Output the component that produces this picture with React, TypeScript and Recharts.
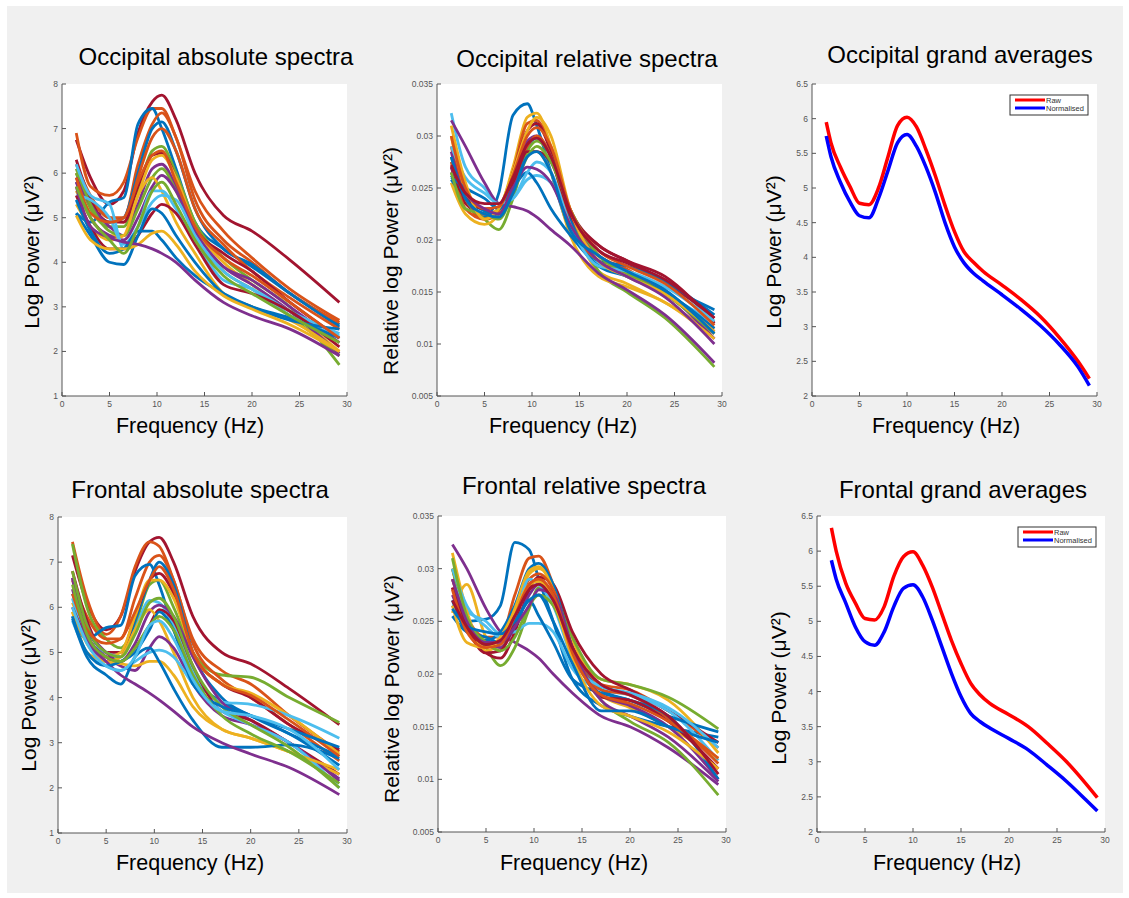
import React from "react";
import { LineChart, Line, XAxis, YAxis } from "recharts";

// frequency grid (Hz) the individual spectra are sampled at
const FREQ = [1.5, 3, 5, 6.5, 8, 9.5, 10.5, 12, 14, 17, 20, 24, 29.2];
// finer grid for the grand averages
const AVG_FREQ = [1.5, 2, 3, 4, 5, 6, 7, 8, 9, 10, 11, 12, 13, 14, 15, 16, 17, 18, 20, 22, 24, 26, 28, 29.2];

const X_TICKS = [0, 5, 10, 15, 20, 25, 30];
const ABS_TICKS = [1, 2, 3, 4, 5, 6, 7, 8];
const REL_TICKS = [0.005, 0.01, 0.015, 0.02, 0.025, 0.03, 0.035];
const AVG_TICKS = [2, 2.5, 3, 3.5, 4, 4.5, 5, 5.5, 6, 6.5];

// matlab default line colours
const BL = "#0072BD";
const OR = "#D95319";
const YE = "#EDB120";
const PU = "#7E2F8E";
const GR = "#77AC30";
const CY = "#4DBEEE";
const DR = "#A2142F";

const occAbsColors = [DR, OR, BL, OR, BL, OR, GR, DR, YE, PU, GR, PU, YE, CY, CY, DR, BL, BL, YE, PU, OR, GR];
const occAbs = [
  [6.75, 5.9, 5.3, 5.6, 6.9, 7.6, 7.75, 7.2, 6.0, 5.05, 4.7, 4.05, 3.1],
  [6.9, 5.7, 5.5, 5.8, 6.8, 7.45, 7.45, 6.8, 5.6, 4.7, 4.1, 3.4, 2.7],
  [5.1, 4.9, 5.35, 5.45, 7.1, 7.45, 7.0, 6.1, 4.9, 4.3, 3.9, 3.3, 2.6],
  [6.2, 5.5, 5.0, 5.0, 6.2, 7.1, 7.35, 6.8, 5.4, 4.5, 4.0, 3.3, 2.65],
  [5.8, 5.3, 4.9, 5.0, 6.0, 7.0, 7.15, 6.5, 5.2, 4.3, 3.95, 3.3, 2.55],
  [6.0, 5.4, 5.0, 4.9, 5.9, 6.8, 7.0, 6.5, 5.2, 4.4, 3.8, 3.2, 2.5],
  [6.0, 5.2, 4.8, 4.8, 5.6, 6.5, 6.6, 6.0, 4.9, 4.1, 3.6, 3.0, 1.7],
  [6.3, 5.4, 4.9, 4.9, 5.7, 6.4, 6.45, 5.9, 4.8, 4.2, 3.8, 3.1, 2.3],
  [5.6, 5.0, 4.6, 4.6, 5.5, 6.3, 6.4, 5.9, 4.8, 4.0, 3.5, 2.9, 2.0],
  [5.9, 5.3, 4.8, 4.6, 5.3, 6.1, 6.2, 5.7, 4.6, 3.9, 3.6, 3.0, 2.2],
  [6.1, 5.3, 4.7, 4.6, 5.2, 5.9, 6.1, 5.6, 4.6, 3.8, 3.4, 2.8, 1.9],
  [5.8, 5.0, 4.6, 4.5, 5.0, 5.7, 5.95, 5.6, 4.7, 3.9, 3.5, 2.9, 1.95],
  [5.3, 4.8, 4.5, 4.6, 5.5, 5.9, 5.6, 4.9, 4.2, 3.3, 3.0, 2.7, 2.0],
  [6.2, 5.5, 5.3, 4.3, 4.8, 5.6, 5.6, 5.2, 4.5, 3.6, 3.4, 2.9, 2.4],
  [5.5, 5.4, 5.0, 4.4, 4.8, 5.35, 5.5, 5.4, 4.6, 3.8, 3.4, 2.8, 2.35],
  [5.5, 4.8, 4.3, 4.3, 4.6, 5.1, 5.3, 5.1, 4.4, 3.5, 3.3, 2.9, 2.1],
  [5.1, 4.6, 4.0, 3.95, 4.6, 5.2, 5.1, 4.6, 4.0, 3.3, 3.0, 2.7, 2.5],
  [5.4, 4.7, 4.2, 4.3, 4.7, 4.7, 4.5, 4.1, 3.7, 3.3, 3.0, 2.75, 2.3],
  [5.05, 4.5, 4.3, 4.3, 4.4, 4.65, 4.7, 4.4, 3.8, 3.25, 2.95, 2.6, 2.0],
  [5.7, 4.8, 4.55, 4.45, 4.4, 4.3, 4.2, 4.0, 3.6, 3.1, 2.8, 2.5, 1.9],
  [5.9, 5.1, 4.9, 5.0, 5.8, 6.4, 6.5, 5.8, 4.8, 4.1, 3.7, 3.1, 2.3],
  [5.7, 5.0, 4.5, 4.2, 4.8, 5.6, 5.8, 5.3, 4.5, 3.7, 3.3, 2.8, 2.2],
];

const occRelColors = [BL, YE, OR, DR, GR, PU, CY, YE, PU, BL, OR, DR, BL, GR, CY, YE, OR, PU, BL, DR];
const occRel = [
  [0.0262, 0.024, 0.0222, 0.0245, 0.032, 0.0331, 0.031, 0.0265, 0.021, 0.0185, 0.017, 0.0155, 0.0133],
  [0.03, 0.0245, 0.0225, 0.023, 0.027, 0.0318, 0.0322, 0.029, 0.0225, 0.017, 0.0158, 0.014, 0.011],
  [0.029, 0.024, 0.022, 0.0225, 0.0265, 0.0312, 0.0315, 0.0285, 0.022, 0.0185, 0.0172, 0.0148, 0.0115],
  [0.027, 0.0235, 0.0225, 0.0225, 0.0265, 0.0305, 0.0312, 0.0285, 0.023, 0.0195, 0.018, 0.016, 0.0125],
  [0.028, 0.024, 0.022, 0.021, 0.024, 0.0285, 0.0295, 0.028, 0.0225, 0.017, 0.015, 0.0125, 0.0078],
  [0.0285, 0.024, 0.0225, 0.0225, 0.0255, 0.0295, 0.03, 0.028, 0.0225, 0.0185, 0.017, 0.015, 0.0105],
  [0.0322, 0.027, 0.025, 0.0235, 0.024, 0.0258, 0.0262, 0.0255, 0.0215, 0.0178, 0.0165, 0.0148, 0.012],
  [0.0255, 0.0225, 0.0215, 0.0225, 0.026, 0.0285, 0.0285, 0.0265, 0.0205, 0.0165, 0.0155, 0.014, 0.0105],
  [0.0315, 0.029, 0.0255, 0.0235, 0.0232, 0.0228, 0.0222, 0.021, 0.0195, 0.0168, 0.0152, 0.0128, 0.0082],
  [0.0258, 0.024, 0.0228, 0.0225, 0.025, 0.029, 0.0298, 0.028, 0.022, 0.018, 0.0175, 0.016, 0.0128],
  [0.0275, 0.023, 0.022, 0.0228, 0.0255, 0.029, 0.03, 0.028, 0.0215, 0.018, 0.0168, 0.015, 0.0112],
  [0.0265, 0.024, 0.023, 0.0232, 0.0255, 0.0285, 0.0285, 0.0275, 0.0225, 0.0195, 0.018, 0.0165, 0.012],
  [0.026, 0.025, 0.024, 0.023, 0.025, 0.0265, 0.0255, 0.023, 0.0205, 0.0175, 0.0165, 0.015, 0.0115],
  [0.0265, 0.023, 0.0225, 0.022, 0.0245, 0.028, 0.029, 0.0275, 0.023, 0.0185, 0.0168, 0.0148, 0.011],
  [0.029, 0.026, 0.0245, 0.0235, 0.024, 0.0265, 0.0275, 0.0265, 0.0215, 0.0175, 0.017, 0.0155, 0.0122],
  [0.031, 0.0255, 0.022, 0.023, 0.0265, 0.0305, 0.0318, 0.03, 0.023, 0.018, 0.0165, 0.0148, 0.0112],
  [0.03, 0.025, 0.023, 0.0232, 0.0262, 0.03, 0.0308, 0.029, 0.023, 0.019, 0.0175, 0.0158, 0.0118],
  [0.027, 0.0245, 0.023, 0.0225, 0.025, 0.027, 0.0268, 0.0255, 0.0215, 0.018, 0.0165, 0.0145, 0.01],
  [0.028, 0.024, 0.0225, 0.0222, 0.0245, 0.028, 0.0285, 0.0265, 0.021, 0.0185, 0.017, 0.0152, 0.011],
  [0.0272, 0.0245, 0.0235, 0.0235, 0.026, 0.0292, 0.0298, 0.028, 0.0228, 0.019, 0.0178, 0.0162, 0.0125],
];

const froAbsColors = [DR, OR, GR, OR, BL, BL, DR, YE, CY, PU, DR, YE, PU, CY, YE, BL, PU, GR, OR, BL, GR, CY];
const froAbs = [
  [7.15, 6.1, 5.5, 5.8, 6.8, 7.45, 7.55, 7.0, 5.8, 5.0, 4.75, 4.2, 3.4],
  [7.45, 6.2, 5.4, 5.8, 6.9, 7.45, 7.35, 6.6, 5.3, 4.6, 4.3, 3.6, 2.8],
  [7.4, 6.0, 5.3, 5.1, 5.6, 6.5, 6.6, 6.0, 5.0, 4.5, 4.45, 4.0, 3.45],
  [6.6, 5.8, 5.3, 5.3, 6.2, 7.0, 7.15, 6.6, 5.2, 4.4, 4.0, 3.4, 2.6],
  [5.8, 5.3, 5.55, 5.6, 6.7, 6.95, 6.5, 5.5, 4.5, 3.9, 3.6, 3.2, 2.5],
  [6.3, 5.5, 5.0, 4.9, 5.7, 6.6, 7.0, 6.5, 5.0, 4.0, 3.6, 3.2, 2.7],
  [6.8, 5.7, 5.0, 5.0, 5.8, 6.6, 6.75, 6.3, 5.0, 4.3, 4.0, 3.4, 2.85],
  [6.1, 5.4, 4.9, 5.0, 5.8, 6.6, 6.6, 6.2, 5.0, 4.3, 4.1, 3.6, 2.75],
  [6.2, 5.3, 5.0, 4.9, 5.5, 6.15, 6.1, 5.6, 4.6, 3.9, 3.85, 3.6, 3.1],
  [6.65, 5.6, 5.0, 4.8, 5.2, 5.9, 6.05, 5.8, 4.9, 3.9, 3.5, 3.0, 2.2],
  [6.0, 5.3, 4.9, 4.8, 5.1, 5.6, 5.95, 5.7, 4.7, 3.7, 3.5, 3.0, 2.3],
  [5.9, 5.2, 4.8, 4.9, 5.5, 5.95, 5.7, 5.0, 4.0, 3.3, 3.1, 2.8, 2.3],
  [6.4, 5.4, 4.9, 4.7, 4.6, 5.1, 5.35, 5.1, 4.3, 3.6, 3.4, 3.0, 2.15],
  [5.7, 5.0, 4.7, 4.6, 4.8, 5.0, 5.05, 4.9, 4.3, 3.7, 3.4, 3.0, 2.0],
  [5.9, 5.0, 4.8, 4.75, 4.7, 4.8, 4.8, 4.5, 3.8, 3.3, 3.1, 2.8, 2.4],
  [5.75, 4.9, 4.5, 4.3, 4.9, 5.1, 4.8, 4.2, 3.5, 2.9, 2.9, 2.95, 2.65],
  [6.65, 5.3, 4.8, 4.5, 4.3, 4.1, 3.95, 3.7, 3.35, 3.0, 2.75, 2.45, 1.85],
  [6.8, 5.6, 5.0, 4.9, 5.4, 6.1, 6.2, 5.8, 4.7, 3.8, 3.4, 2.9, 2.0],
  [6.3, 5.5, 5.2, 5.3, 5.9, 6.6, 6.9, 6.4, 5.0, 4.3, 4.05, 3.5, 2.7],
  [5.8, 5.0, 4.7, 4.8, 5.0, 5.5, 5.9, 5.5, 4.3, 3.8, 3.6, 3.3, 2.9],
  [6.5, 5.4, 4.9, 4.8, 5.1, 5.6, 5.8, 5.5, 4.5, 3.6, 3.2, 2.8, 2.1],
  [6.0, 5.2, 4.7, 4.6, 4.9, 5.6, 5.7, 5.3, 4.4, 3.7, 3.6, 3.3, 2.4],
];

const froRelColors = [BL, OR, PU, YE, GR, DR, CY, BL, YE, PU, OR, BL, DR, CY, GR, PU, YE, BL, OR, DR];
const froRel = [
  [0.0265, 0.025, 0.0252, 0.0265, 0.0325, 0.0318, 0.029, 0.025, 0.0195, 0.017, 0.016, 0.015, 0.014],
  [0.03, 0.0255, 0.0235, 0.0235, 0.0275, 0.031, 0.0312, 0.0285, 0.023, 0.019, 0.0185, 0.0165, 0.013],
  [0.0323, 0.03, 0.0262, 0.024, 0.023, 0.0222, 0.0215, 0.02, 0.0182, 0.016, 0.015, 0.013, 0.0095],
  [0.0258, 0.0285, 0.0235, 0.0225, 0.026, 0.0295, 0.03, 0.0285, 0.023, 0.0195, 0.019, 0.0175, 0.0125],
  [0.03, 0.025, 0.0225, 0.0208, 0.0225, 0.0262, 0.0282, 0.028, 0.0235, 0.0195, 0.019, 0.0178, 0.0148],
  [0.0282, 0.0245, 0.022, 0.0215, 0.024, 0.028, 0.0292, 0.0285, 0.024, 0.02, 0.0185, 0.0165, 0.0135],
  [0.029, 0.026, 0.025, 0.0238, 0.024, 0.0248, 0.0248, 0.024, 0.0205, 0.0185, 0.018, 0.0165, 0.0118],
  [0.027, 0.024, 0.0232, 0.024, 0.0265, 0.03, 0.0305, 0.0285, 0.0225, 0.0185, 0.0175, 0.016, 0.0145],
  [0.0315, 0.026, 0.0222, 0.023, 0.0262, 0.0298, 0.0302, 0.028, 0.022, 0.018, 0.0168, 0.015, 0.012],
  [0.0275, 0.0245, 0.023, 0.0225, 0.0245, 0.0275, 0.0285, 0.027, 0.0225, 0.018, 0.017, 0.015, 0.01],
  [0.029, 0.025, 0.0228, 0.0232, 0.0258, 0.029, 0.0295, 0.028, 0.0225, 0.0185, 0.018, 0.0158, 0.0115],
  [0.0255, 0.024, 0.0235, 0.023, 0.0245, 0.027, 0.0255, 0.023, 0.0195, 0.0182, 0.0175, 0.016, 0.01],
  [0.0282, 0.0245, 0.022, 0.0222, 0.025, 0.0285, 0.029, 0.0275, 0.0225, 0.0178, 0.0175, 0.0155, 0.011],
  [0.03, 0.0265, 0.0245, 0.0235, 0.0255, 0.029, 0.0285, 0.0265, 0.0215, 0.0188, 0.0182, 0.0168, 0.013],
  [0.031, 0.0255, 0.023, 0.0222, 0.0235, 0.0265, 0.0275, 0.0265, 0.022, 0.0175, 0.0155, 0.0135, 0.0085],
  [0.029, 0.025, 0.023, 0.023, 0.0245, 0.0265, 0.028, 0.0275, 0.0225, 0.0175, 0.016, 0.014, 0.0098],
  [0.0265, 0.023, 0.0225, 0.0235, 0.026, 0.0285, 0.0288, 0.027, 0.0215, 0.017, 0.016, 0.0145, 0.011],
  [0.0262, 0.0245, 0.024, 0.0238, 0.025, 0.027, 0.0275, 0.025, 0.021, 0.0165, 0.0165, 0.015, 0.0135],
  [0.028, 0.024, 0.0225, 0.0228, 0.0255, 0.0285, 0.029, 0.0275, 0.022, 0.018, 0.0172, 0.0155, 0.012],
  [0.027, 0.0245, 0.0228, 0.0232, 0.0255, 0.028, 0.0285, 0.027, 0.0225, 0.019, 0.018, 0.016, 0.0105],
];

// grand averages
const occRaw = [5.95, 5.65, 5.3, 5.02, 4.78, 4.76, 5.0, 5.45, 5.9, 6.02, 5.88, 5.55, 5.17, 4.75, 4.37, 4.08, 3.93, 3.8, 3.6, 3.39, 3.15, 2.85, 2.5, 2.25];
const occNorm = [5.75, 5.45, 5.08, 4.8, 4.6, 4.57, 4.85, 5.25, 5.65, 5.77, 5.6, 5.3, 4.93, 4.5, 4.15, 3.92, 3.77, 3.66, 3.46, 3.25, 3.02, 2.75, 2.42, 2.15];
const froRaw = [6.33, 6.0, 5.54, 5.26, 5.04, 5.02, 5.21, 5.64, 5.92, 5.99, 5.8, 5.49, 5.11, 4.73, 4.4, 4.12, 3.95, 3.83, 3.67, 3.5, 3.26, 3.0, 2.69, 2.49];
const froNorm = [5.87, 5.6, 5.26, 4.92, 4.71, 4.66, 4.85, 5.21, 5.47, 5.52, 5.35, 5.02, 4.64, 4.26, 3.93, 3.69, 3.57, 3.48, 3.33, 3.17, 2.95, 2.72, 2.46, 2.3];
const AVG_NAMES = ["Raw", "Normalised"];
const AVG_COLORS = ["#FF0000", "#0000FF"];

const FONT = "'Liberation Sans', Arial, Helvetica, sans-serif";
const AX = "#555";
const TICK_TXT = "#555";

const toRows = (xs: number[], series: number[][]) =>
  xs.map((f, i) => {
    const row: Record<string, number> = { f };
    series.forEach((s, j) => (row["s" + j] = s[i]));
    return row;
  });

const BottomTick = (p: any) => (
  <g>
    <line x1={p.x} x2={p.x} y1={p.y} y2={p.y - 4} stroke={AX} />
    <text x={p.x} y={p.y + 11} textAnchor="middle" fontSize={8.5} fill={TICK_TXT} fontFamily={FONT}>
      {p.payload.value}
    </text>
  </g>
);
const TopTick = (p: any) => <line x1={p.x} x2={p.x} y1={p.y} y2={p.y + 4} stroke={AX} />;
const LeftTick = (p: any) => (
  <g>
    <line x1={p.x} x2={p.x + 4} y1={p.y} y2={p.y} stroke={AX} />
    <text x={p.x - 4} y={p.y + 3} textAnchor="end" fontSize={8.5} fill={TICK_TXT} fontFamily={FONT}>
      {p.payload.value}
    </text>
  </g>
);
const RightTick = (p: any) => <line x1={p.x} x2={p.x - 4} y1={p.y} y2={p.y} stroke={AX} />;

const PAD_L = 45;
const PAD_T = 8;
const PAD_R = 8;
const PAD_B = 20;

type PanelProps = {
  box: [number, number, number, number]; // plot left, top, right, bottom on the page
  rows: Record<string, number>[];
  colors: string[];
  yDomain: [number, number];
  yTicks: number[];
  width?: number;
};

function Panel({ box, rows, colors, yDomain, yTicks, width = 2.8 }: PanelProps) {
  const [x0, y0, x1, y1] = box;
  const w = x1 - x0 + PAD_L + PAD_R;
  const h = y1 - y0 + PAD_T + PAD_B;
  return (
    <>
      <div style={{ position: "absolute", left: x0, top: y0, width: x1 - x0, height: y1 - y0, background: "#fff" }} />
      <div style={{ position: "absolute", left: x0 - PAD_L, top: y0 - PAD_T, width: w, height: h }}>
        <LineChart width={w} height={h} data={rows} margin={{ top: PAD_T, right: PAD_R, bottom: 0, left: 0 }}>
          <XAxis xAxisId="b" dataKey="f" type="number" domain={[0, 30]} ticks={X_TICKS} interval={0}
            tickSize={0} tickMargin={0} height={PAD_B} axisLine={{ stroke: AX }} tickLine={false} tick={BottomTick} allowDataOverflow />
          <XAxis xAxisId="t" orientation="top" dataKey="f" type="number" domain={[0, 30]} ticks={X_TICKS} interval={0}
            tickSize={0} tickMargin={0} height={0} axisLine={{ stroke: AX }} tickLine={false} tick={TopTick} allowDataOverflow />
          <YAxis yAxisId="l" type="number" domain={yDomain} ticks={yTicks} interval={0}
            tickSize={0} tickMargin={0} width={PAD_L} axisLine={{ stroke: AX }} tickLine={false} tick={LeftTick} allowDataOverflow />
          <YAxis yAxisId="r" orientation="right" type="number" domain={yDomain} ticks={yTicks} interval={0}
            tickSize={0} tickMargin={0} width={0} axisLine={{ stroke: AX }} tickLine={false} tick={RightTick} allowDataOverflow />
          {colors.map((c, i) => (
            <Line key={i} xAxisId="b" yAxisId="l" dataKey={"s" + i} type="monotone" stroke={c}
              strokeWidth={width} dot={false} activeDot={false} isAnimationActive={false} />
          ))}
        </LineChart>
      </div>
    </>
  );
}

const TITLES = [
  { x: 216, y: 65, t: "Occipital absolute spectra" },
  { x: 587, y: 67, t: "Occipital relative spectra" },
  { x: 960, y: 63, t: "Occipital grand averages" },
  { x: 200, y: 498, t: "Frontal absolute spectra" },
  { x: 584, y: 494, t: "Frontal relative spectra" },
  { x: 963, y: 498, t: "Frontal grand averages" },
];
const XLABELS = [
  { x: 190, y: 433 }, { x: 563, y: 433 }, { x: 946, y: 433 },
  { x: 190, y: 870 }, { x: 574, y: 870 }, { x: 947, y: 870 },
];
const YLABELS = [
  { x: 39, y: 252, t: "Log Power (μV²)" },
  { x: 398, y: 261, t: "Relative log Power (μV²)" },
  { x: 781, y: 252, t: "Log Power (μV²)" },
  { x: 36, y: 695, t: "Log Power (μV²)" },
  { x: 399, y: 689, t: "Relative log Power (μV²)" },
  { x: 786, y: 688, t: "Log Power (μV²)" },
];

function AvgLegend({ x, y }: { x: number; y: number }) {
  return (
    <g>
      <rect x={x} y={y} width={78} height={20} fill="#fff" stroke="#333" />
      {AVG_NAMES.map((n, i) => (
        <g key={n}>
          <line x1={x + 5} x2={x + 35} y1={y + 5 + i * 8} y2={y + 5 + i * 8} stroke={AVG_COLORS[i]} strokeWidth={3} />
          <text x={x + 36} y={y + 7.5 + i * 8} fontSize={7.5} fill="#333" fontFamily={FONT}>{n}</text>
        </g>
      ))}
    </g>
  );
}

export default function App() {
  return (
    <div style={{ position: "absolute", left: 0, top: 0, width: 1129, height: 898, background: "#fff", overflow: "hidden" }}>
      <div style={{ position: "absolute", left: 7, top: 6, width: 1116, height: 887, background: "#f0f0f0" }} />
      <Panel box={[62, 84, 347, 396]} rows={toRows(FREQ, occAbs)} colors={occAbsColors} yDomain={[1, 8]} yTicks={ABS_TICKS} />
      <Panel box={[437, 84, 722, 396]} rows={toRows(FREQ, occRel)} colors={occRelColors} yDomain={[0.005, 0.035]} yTicks={REL_TICKS} />
      <Panel box={[812, 84, 1097, 396]} rows={toRows(AVG_FREQ, [occRaw, occNorm])} colors={AVG_COLORS} yDomain={[2, 6.5]} yTicks={AVG_TICKS} width={3.5} />
      <Panel box={[58, 517, 347, 833]} rows={toRows(FREQ, froAbs)} colors={froAbsColors} yDomain={[1, 8]} yTicks={ABS_TICKS} />
      <Panel box={[438, 516, 726, 832]} rows={toRows(FREQ, froRel)} colors={froRelColors} yDomain={[0.005, 0.035]} yTicks={REL_TICKS} />
      <Panel box={[817, 516, 1105, 832]} rows={toRows(AVG_FREQ, [froRaw, froNorm])} colors={AVG_COLORS} yDomain={[2, 6.5]} yTicks={AVG_TICKS} width={3.5} />
      <svg width={1129} height={898} style={{ position: "absolute", left: 0, top: 0, pointerEvents: "none" }}>
        {TITLES.map((t) => (
          <text key={t.t} x={t.x} y={t.y} textAnchor="middle" fontSize={24} fill="#000" fontFamily={FONT}>{t.t}</text>
        ))}
        {XLABELS.map((l, i) => (
          <text key={i} x={l.x} y={l.y} textAnchor="middle" fontSize={21.5} fill="#000" fontFamily={FONT}>Frequency (Hz)</text>
        ))}
        {YLABELS.map((l, i) => (
          <text key={i} x={l.x} y={l.y} transform={`rotate(-90 ${l.x} ${l.y})`} textAnchor="middle" fontSize={21} fill="#000" fontFamily={FONT}>{l.t}</text>
        ))}
        <AvgLegend x={1010} y={95} />
        <AvgLegend x={1018} y={527} />
      </svg>
    </div>
  );
}
